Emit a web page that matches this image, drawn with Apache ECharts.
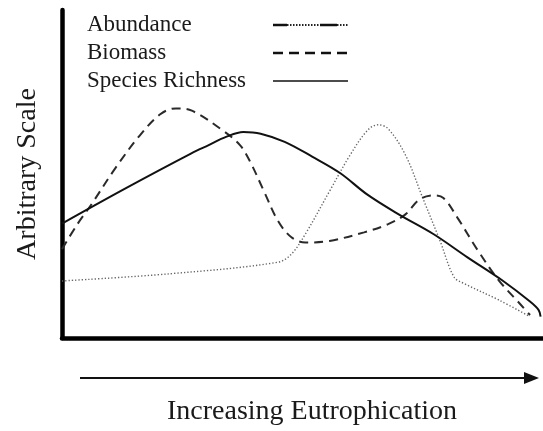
<!DOCTYPE html>
<html>
<head>
<meta charset="utf-8">
<script src="https://cdn.jsdelivr.net/npm/echarts@6/dist/echarts.min.js"></script>
<style>
  html, body { margin: 0; padding: 0; background: #fff; }
  #main { width: 543px; height: 431px; }
</style>
</head>
<body>
<div id="main"></div>
<script>
// values, x = eutrophication (0-100), y = arbitrary scale (0-100)
var seriesNames = ['Abundance', 'Biomass', 'Species Richness'];
var richness = [
  [0, 34.9], [13.3, 45.7], [26.9, 56.3], [30.5, 58.8], [34.1, 61.3], [37.7, 62.8],
  [41.3, 62.3], [46.3, 59.8], [52.0, 55.3], [57.8, 50.3], [63.5, 43.7], [70.0, 37.7],
  [77.2, 31.7], [84.3, 24.6], [91.5, 17.6], [97.3, 11.1], [99.1, 8.5], [99.5, 6.5]
];
var biomass = [
  [0, 27.1], [3.2, 34.7], [6.1, 40.7], [11.1, 51.8], [16.2, 61.8], [20.5, 68.3],
  [23.7, 70.0], [27.0, 69.3], [33.4, 63.3], [37.0, 58.8], [39.1, 53.8], [42.0, 44.7],
  [44.9, 35.7], [47.7, 30.7], [50.6, 29.1], [55.6, 29.6], [62.8, 32.2], [67.8, 34.7],
  [71.4, 37.7], [74.3, 42.2], [77.2, 43.5], [79.3, 42.7], [82.2, 36.7], [86.5, 26.6],
  [90.8, 17.6], [95.1, 10.6], [97.3, 7.0]
];
var abundance = [
  [0, 17.4], [22.6, 19.6], [44.9, 23.1], [47.7, 25.6], [50.6, 31.7], [55.6, 44.7],
  [59.9, 55.8], [63.5, 63.3], [65.7, 65.0], [67.8, 63.8], [71.4, 55.8], [75.0, 42.7],
  [78.6, 29.6], [81.5, 18.6], [83.6, 16.6], [90.8, 11.6], [97.3, 6.5]
];
var xTitle = 'Increasing Eutrophication';
var yTitle = 'Arbitrary Scale';

var serifFont = '"Liberation Serif", "DejaVu Serif", serif';
var myChart = echarts.init(document.getElementById('main'));

// legend drawn by hand: label on the left, line sample in a column on the right
function legendRow(i, y) {
  return {
    type: 'text', left: 87, top: y - 12,
    style: { text: seriesNames[i], font: '23px ' + serifFont, fill: '#1a1a1a' }
  };
}
var legendGraphics = [
  legendRow(0, 25), legendRow(1, 53), legendRow(2, 81),
  // abundance sample: dash, dots, dash, dots
  { type: 'line', shape: { x1: 273, y1: 25, x2: 287, y2: 25 }, style: { stroke: '#111', lineWidth: 2.5 } },
  { type: 'line', shape: { x1: 287, y1: 25, x2: 320, y2: 25 }, style: { stroke: '#222', lineWidth: 2, lineDash: [1.5, 1.5] } },
  { type: 'line', shape: { x1: 320, y1: 25, x2: 337, y2: 25 }, style: { stroke: '#111', lineWidth: 2.5 } },
  { type: 'line', shape: { x1: 337, y1: 25, x2: 348, y2: 25 }, style: { stroke: '#222', lineWidth: 2, lineDash: [1.5, 1.5] } },
  { type: 'line', shape: { x1: 273, y1: 53, x2: 348, y2: 53 }, style: { stroke: '#111', lineWidth: 2.5, lineDash: [10, 6] } },
  { type: 'line', shape: { x1: 273, y1: 81, x2: 348, y2: 81 }, style: { stroke: '#111', lineWidth: 1.5 } },
  // arrow under the x axis
  { type: 'line', shape: { x1: 80, y1: 378, x2: 528, y2: 378 }, style: { stroke: '#111', lineWidth: 2 } },
  { type: 'polygon', shape: { points: [[524, 372], [539, 378], [524, 384]] }, style: { fill: '#111' } }
];

var option = {
  backgroundColor: '#fff',
  animation: false,
  grid: { left: 62, right: 0, top: 10, bottom: 90 },
  xAxis: {
    type: 'value', min: 0, max: 100,
    name: xTitle, nameLocation: 'middle', nameGap: 60,
    nameTextStyle: { fontFamily: serifFont, fontSize: 28, color: '#1a1a1a', padding: [0, 0, 0, 19] },
    axisLine: { show: true, onZero: false, lineStyle: { color: '#000', width: 4.5 } },
    axisTick: { show: false }, axisLabel: { show: false }, splitLine: { show: false }
  },
  yAxis: {
    type: 'value', min: 0, max: 100,
    name: yTitle, nameLocation: 'middle', nameGap: 20, nameRotate: 90,
    nameTextStyle: { fontFamily: serifFont, fontSize: 28, color: '#1a1a1a' },
    axisLine: { show: true, lineStyle: { color: '#000', width: 4.5 } },
    axisTick: { show: false }, axisLabel: { show: false }, splitLine: { show: false }
  },
  series: [
    {
      name: seriesNames[0], type: 'line', data: abundance, symbol: 'none', smooth: 0.35,
      lineStyle: { color: '#666', width: 1.4, type: [1.3, 2] }
    },
    {
      name: seriesNames[1], type: 'line', data: biomass, symbol: 'none', smooth: 0.35,
      lineStyle: { color: '#2a2a2a', width: 2, type: [9, 6] }
    },
    {
      name: seriesNames[2], type: 'line', data: richness, symbol: 'none', smooth: 0.35,
      lineStyle: { color: '#111', width: 2 }
    }
  ],
  graphic: legendGraphics
};
myChart.setOption(option);
</script>
</body>
</html>
